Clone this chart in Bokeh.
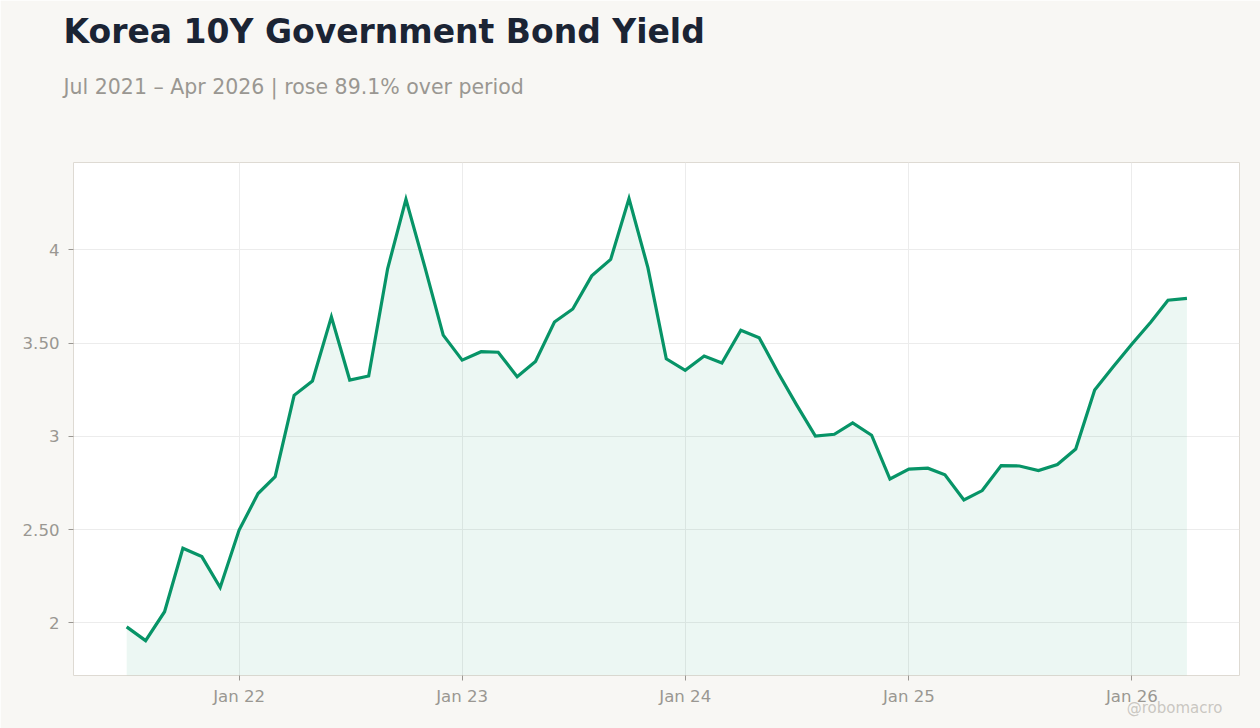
import re
import pandas as pd
from datetime import datetime
from bokeh.plotting import figure
from bokeh.models import Range1d, FixedTicker, DatetimeTickFormatter, Title, ColumnDataSource
from bokeh.embed import file_html
from bokeh.resources import INLINE

# ---- data ----
start_month = "2021-07-01"
yields = [
    1.978, 1.904, 2.059, 2.400, 2.355, 2.189,          # Jul-Dec 2021
    2.497, 2.693, 2.784, 3.220, 3.297, 3.641,          # Jan-Jun 2022
    3.302, 3.324, 3.899, 4.271, 3.908, 3.543,          # Jul-Dec 2022
    3.409, 3.454, 3.451, 3.320, 3.402, 3.613,          # Jan-Jun 2023
    3.683, 3.861, 3.949, 4.276, 3.904, 3.416,          # Jul-Dec 2023
    3.354, 3.431, 3.393, 3.569, 3.529, 3.341,          # Jan-Jun 2024
    3.170, 3.001, 3.011, 3.072, 3.006, 2.771,          # Jul-Dec 2024
    2.824, 2.829, 2.794, 2.659, 2.709, 2.843,          # Jan-Jun 2025
    2.841, 2.816, 2.849, 2.932, 3.249, 3.372,          # Jul-Dec 2025
    3.495, 3.613, 3.730, 3.740,                        # Jan-Apr 2026
]
dates = pd.date_range(start_month, periods=len(yields), freq="MS")

x_ticks = ["2022-01-01", "2023-01-01", "2024-01-01", "2025-01-01", "2026-01-01"]
y_ticks = [2, 2.5, 3, 3.5, 4]
y_tick_labels = ["2", "2.50", "3", "3.50", "4"]

title_text = "Korea 10Y Government Bond Yield"
subtitle_text = "Jul 2021 \u2013 Apr 2026 | rose 89.1% over period"
watermark_text = "@robomacro"

# ---- styles ----
BG = "#f8f7f4"
GREEN = "#079467"
GREY = "#9a9792"
FONT = "DejaVu Sans"

x_start = datetime(2021, 4, 5)
x_end = datetime(2026, 6, 26)
y_start, y_end = 1.717, 4.469

src = ColumnDataSource(dict(x=dates, y=yields, base=[y_start] * len(yields)))

p = figure(
    width=1260, height=728,
    title=None,
    x_axis_type="datetime",
    x_range=Range1d(x_start, x_end),
    y_range=Range1d(y_start, y_end),
    output_backend="svg", toolbar_location=None,
    min_border_left=73, min_border_right=21,
    min_border_top=162, min_border_bottom=53,
)
p.border_fill_color = BG
p.background_fill_color = "white"
p.outline_line_color = "#dedad3"
p.outline_line_width = 1

p.varea(x="x", y1="base", y2="y", source=src, fill_color=GREEN, fill_alpha=0.08)
p.line(x="x", y="y", source=src, line_color=GREEN, line_width=3.2, line_join="miter")

tick_ms = [pd.Timestamp(t).value // 10**6 for t in x_ticks]
p.xaxis.ticker = FixedTicker(ticks=tick_ms)
fmt = "%b %y"
p.xaxis.formatter = DatetimeTickFormatter(
    years=fmt, months=fmt, days=fmt, hours=fmt, minutes=fmt, seconds=fmt,
    milliseconds=fmt, microseconds=fmt, hourmin=fmt, minsec=fmt)
p.yaxis.ticker = FixedTicker(ticks=y_ticks)
p.yaxis.major_label_overrides = {t: l for t, l in zip(y_ticks, y_tick_labels)}

for ax in (p.xaxis[0], p.yaxis[0]):
    ax.axis_line_color = None
    ax.major_tick_line_color = GREY
    ax.major_tick_out = 5
    ax.major_tick_in = 0
    ax.minor_tick_line_color = None
    ax.major_label_text_color = GREY
    ax.major_label_text_font = FONT
    ax.major_label_text_font_size = "16.6px"
p.xaxis.major_label_standoff = 6
p.yaxis.major_label_standoff = 9

p.xgrid.ticker = p.xaxis.ticker
p.ygrid.ticker = p.yaxis.ticker
p.grid.grid_line_color = "#ececec"
p.grid.grid_line_width = 1

# stacked from the frame upward: spacer, subtitle, title
p.add_layout(Title(text=" ", standoff=32, text_font=FONT, text_font_size="10px",
                   text_color=BG), "above")
p.add_layout(Title(text=subtitle_text, align="left", offset=-10, standoff=36.4,
                   text_font=FONT, text_font_size="20.5px", text_font_style="normal",
                   text_color=GREY), "above")
p.add_layout(Title(text=title_text, align="left", offset=-10, standoff=10,
                   text_font=FONT, text_font_size="33px", text_font_style="bold",
                   text_color="#1b2434"), "above")
p.add_layout(Title(text=watermark_text, align="right", offset=17, standoff=-19,
                   vertical_align="top",
                   text_font=FONT, text_font_size="15px", text_font_style="normal",
                   text_color="#c4c1bb", text_alpha=0.9), "below")

html = file_html(p, INLINE)
html = re.sub(r"<body>", '<body style="background:%s;margin:0">' % BG, html, count=1)
open("out.html", "w").write(html)
